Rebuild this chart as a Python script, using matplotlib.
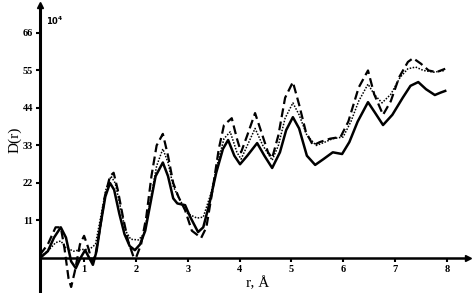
import matplotlib
matplotlib.use('Agg')
import matplotlib.pyplot as plt

plt.rcParams['font.family'] = ['Liberation Serif', 'DejaVu Serif']

# solid curve
r_solid = [0.15, 0.30, 0.42, 0.55, 0.65, 0.75, 0.84, 0.93, 1.02, 1.10, 1.17, 1.24, 1.32, 1.41,
           1.50, 1.58, 1.68, 1.78, 1.88, 1.98, 2.08, 2.18, 2.28, 2.38, 2.52, 2.62, 2.72, 2.80,
           2.95, 3.05, 3.20, 3.30, 3.42, 3.55, 3.68, 3.78, 3.90, 4.01, 4.15, 4.34, 4.48, 4.63,
           4.78, 4.90, 5.03, 5.15, 5.30, 5.46, 5.62, 5.80, 5.98, 6.12, 6.28, 6.48, 6.62, 6.77,
           6.95, 7.15, 7.30, 7.45, 7.60, 7.77, 7.88, 7.97]
d_solid = [0, 2, 6, 9, 6, -1, -3, 0, 2.3, 0, -2, 2, 10, 18,
           22, 20, 13, 7, 3.5, 2.3, 4, 8, 16, 24, 28, 24, 17.5, 16,
           15.5, 12, 7.6, 9, 16, 25, 32, 34.6, 30, 27.5, 30, 33.7, 30, 26.4,
           31, 37.5, 41.3, 38, 30, 27.3, 29, 31, 30.5, 34, 40, 45.7, 42.5, 39,
           42, 47, 50.5, 51.6, 49.5, 47.8, 48.5, 49]

# dashed curve
r_dash = [0.15, 0.30, 0.45, 0.55, 0.62, 0.70, 0.75, 0.82, 0.92, 1.00, 1.08, 1.15, 1.22, 1.30,
          1.40, 1.50, 1.57, 1.65, 1.75, 1.85, 1.95, 2.00, 2.10, 2.20, 2.30, 2.40, 2.52, 2.62,
          2.72, 2.82, 2.95, 3.08, 3.26, 3.36, 3.48, 3.60, 3.70, 3.85, 3.95, 4.03, 4.15, 4.30,
          4.42, 4.55, 4.63, 4.75, 4.88, 5.03, 5.15, 5.28, 5.42, 5.55, 5.75, 5.95, 6.10, 6.30,
          6.48, 6.60, 6.77, 6.92, 7.08, 7.25, 7.35, 7.50, 7.65, 7.80, 7.97]
d_dash = [1, 4, 9, 9, 3, -6, -8.5, -4, 4, 6.5, 3, -1, 1, 8,
          18, 24, 25, 20, 12, 5, 0.5, 0, 4, 12, 24, 33, 36.4, 30,
          22, 18, 14, 8, 5.9, 9, 20, 32, 39, 41, 35, 31, 36, 42.5,
          37, 31, 29.3, 36, 47, 51.6, 45, 37, 33, 34, 35, 35.5, 40, 50,
          55, 48, 42, 46, 53, 57.5, 58.6, 57, 55, 54.5, 55.5]

# dotted curve
r_dot = [0.15, 0.30, 0.45, 0.55, 0.65, 0.80, 0.95, 1.10, 1.22, 1.32, 1.42, 1.52, 1.60, 1.70,
         1.80, 1.90, 2.05, 2.15, 2.28, 2.40, 2.52, 2.62, 2.72, 2.85, 3.00, 3.18, 3.30, 3.45,
         3.58, 3.70, 3.82, 3.95, 4.03, 4.15, 4.30, 4.45, 4.63, 4.75, 4.88, 5.03, 5.15, 5.30,
         5.48, 5.65, 5.80, 6.00, 6.15, 6.30, 6.48, 6.60, 6.75, 6.92, 7.10, 7.25, 7.40, 7.55,
         7.75, 7.97]
d_dot = [0.5, 2, 4.5, 5, 3, 2, 2.5, 2.5, 4, 12, 20, 24, 22, 15,
         8, 5.5, 5.3, 7, 17, 27, 32, 28, 21, 17, 13, 11.7, 12, 19,
         28, 35, 37, 31, 29, 33, 38, 33, 28.7, 33, 41, 45.5, 42, 36,
         33, 34, 35, 35.5, 40, 46, 51, 48, 45.5, 48, 53, 55.5, 56, 55,
         54.5, 55]

x_ticks = [1, 2, 3, 4, 5, 6, 7, 8]
y_ticks = [11, 22, 33, 44, 55, 66]

fig = plt.figure(figsize=(4.75, 2.93), dpi=100)
ax = fig.add_axes([40 / 475, 1 / 293, 428 / 475, 287 / 293])
ax.set_xlim(0.149, 8.41)
ax.set_ylim(-9.97, 74.2)

ax.plot(r_solid, d_solid, color='black', lw=1.8, ls='-')
ax.plot(r_dash, d_dash, color='black', lw=1.6, ls=(0, (4, 2)))
ax.plot(r_dot, d_dot, color='black', lw=1.1, ls=(0, (1, 1)))

for s in ['top', 'right']:
    ax.spines[s].set_visible(False)
ax.spines['left'].set_linewidth(2.2)
ax.spines['bottom'].set_linewidth(1.8)
ax.spines['bottom'].set_position(('data', 0))

# arrowheads on the axes
ax.plot([0], [1], marker='^', color='black', ms=5, transform=ax.transAxes, clip_on=False)
ax.plot([8.41], [0], marker='>', color='black', ms=5, clip_on=False)

ax.set_xticks(x_ticks)
ax.set_xticklabels([str(t) for t in x_ticks])
ax.set_yticks(y_ticks)
ax.set_yticklabels([str(t) for t in y_ticks])
ax.tick_params(axis='both', direction='out', length=3, width=1.5, labelsize=7.5, pad=2)
for lab in ax.get_xticklabels() + ax.get_yticklabels():
    lab.set_fontweight('bold')

ax.text(0.015, 0.965, r'$\mathbf{10^4}$', transform=ax.transAxes, fontsize=6, va='top')
fig.text(15 / 475, 1 - 140 / 293, 'D(r)', rotation=90, ha='center', va='center', fontsize=11)
fig.text(258 / 475, 1 - 283 / 293, 'r, Å', ha='center', va='center', fontsize=11)

fig.savefig('out.png', dpi=100)
